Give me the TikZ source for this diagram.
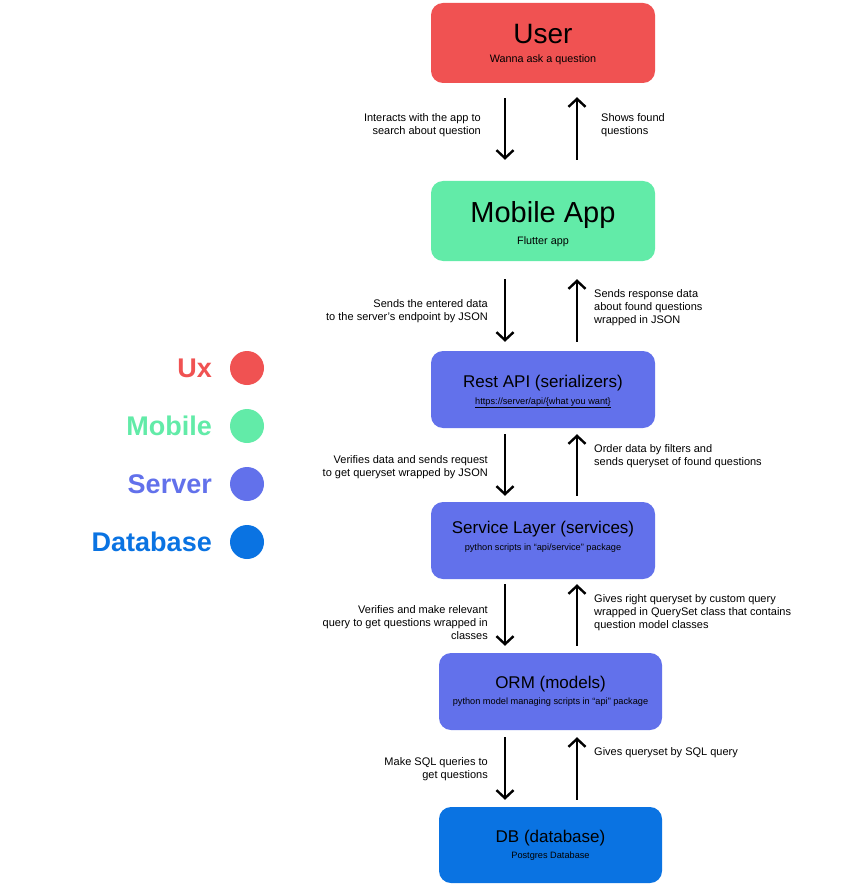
\documentclass[tikz,border=0pt]{standalone}
\usepackage{fontspec}
\setmainfont{Liberation Sans}
\usepackage{tikz}
\usetikzlibrary{
  arrows.meta,
  positioning
}
\definecolor{uxred}{HTML}{F05252}
\definecolor{mobgreen}{HTML}{62EBA8}
\definecolor{srvblue}{HTML}{6271EB}
\definecolor{dbblue}{HTML}{0A73E2}
\tikzset{
  layer/.style={rounded corners=12pt, minimum width=224pt, minimum height=77pt,
    align=center, inner sep=0pt},
  flow/.style={line width=2.4pt, -{Straight Barb[length=8pt,width=17pt,line width=2.4pt]}},
  note/.style={font=\fontsize{11}{13}\selectfont, inner sep=0pt},
  key/.style={font=\fontsize{27}{30}\selectfont\bfseries, anchor=east, inner sep=0pt},
  dot/.style={circle, minimum size=34pt, inner sep=0pt}
}

\begin{document}
\begin{tikzpicture}[x=1pt, y=-1pt]
    \useasboundingbox (0,0) rectangle (859,893);
    \coordinate (lx) at (505,0);
    \coordinate (rx) at (577,0);
    \node[layer, fill=uxred, minimum height=80pt, font=\fontsize{10}{19}\selectfont] (user) at (543,43)
      {{\fontsize{28}{28}\selectfont\rule{0pt}{22pt}User}\\{\fontsize{10.8}{13}\selectfont Wanna ask a question}};
    \node[layer, fill=mobgreen, minimum height=80pt, font=\fontsize{10}{22}\selectfont] (app) at (543,221)
      {{\fontsize{29}{29}\selectfont\rule{0pt}{27pt}Mobile App}\\{\fontsize{10.8}{13}\selectfont Flutter app}};
    \node[layer, fill=srvblue, font=\fontsize{9}{17}\selectfont] (api) at (543,389.5)
      {{\fontsize{17}{17}\selectfont\rule{0pt}{16pt}Rest API (serializers)}\\{\fontsize{9.2}{10}\selectfont\underline{https://server/api/\{what you want\}}}};
    \node[layer, fill=srvblue, font=\fontsize{9}{17}\selectfont] (svc) at (543,540.5)
      {{\fontsize{17}{17}\selectfont Service Layer (services)}\\{\fontsize{9.2}{10}\selectfont\rule[-10pt]{0pt}{10pt}python scripts in “api/service” package}};
    \node[layer, fill=srvblue, minimum width=223pt, font=\fontsize{9}{16}\selectfont] (orm) at (550.5,691.5)
      {{\fontsize{17}{17}\selectfont ORM (models)}\\{\fontsize{9.2}{10}\selectfont python model managing scripts in “api” package}};
    \node[layer, fill=dbblue, minimum width=223pt, minimum height=76pt, font=\fontsize{9}{16}\selectfont] (db) at (550.5,845)
      {{\fontsize{17}{17}\selectfont DB (database)}\\{\fontsize{9.2}{10}\selectfont Postgres Database}};
    \draw[flow, shorten <=15pt, shorten >=21pt] (lx |- user.south) -- (lx |- app.north);
    \draw[flow, shorten <=21pt, shorten >=14pt] (rx |- app.north) -- (rx |- user.south);
    \draw[flow, shorten <=18pt, shorten >=9pt] (lx |- app.south) -- (lx |- api.north);
    \draw[flow, shorten <=9pt, shorten >=18pt] (rx |- api.north) -- (rx |- app.south);
    \draw[flow, shorten <=6pt, shorten >=6pt] (lx |- api.south) -- (lx |- svc.north);
    \draw[flow, shorten <=6pt, shorten >=6pt] (rx |- svc.north) -- (rx |- api.south);
    \draw[flow, shorten <=5pt, shorten >=7pt] (lx |- svc.south) -- (lx |- orm.north);
    \draw[flow, shorten <=7pt, shorten >=5pt] (rx |- orm.north) -- (rx |- svc.south);
    \draw[flow, shorten <=7pt, shorten >=7pt] (lx |- orm.south) -- (lx |- db.north);
    \draw[flow, shorten <=7pt, shorten >=7pt] (rx |- db.north) -- (rx |- orm.south);
    \node[note, anchor=east, align=right] (l1) at (481,125.5) {Interacts with the app to\\search about question};
    \node[note, anchor=west, align=left] (r1) at (601,125.5) {Shows found\\questions};
    \node[note, anchor=east, align=right] (l2) at (488,311.5) {Sends the entered data\\to the server’s endpoint by JSON};
    \node[note, anchor=west, align=left] (r2) at (594,308) {Sends response data\\about found questions\\wrapped in JSON};
    \node[note, anchor=east, align=right] (l3) at (488,467.5) {Verifies data and sends request\\to get queryset wrapped by JSON};
    \node[note, anchor=west, align=left] (r3) at (594,456.5) {Order data by filters and\\sends queryset of found questions};
    \node[note, anchor=east, align=right] (l4) at (488,623) {Verifies and make relevant\\query to get questions wrapped in\\classes};
    \node[note, anchor=west, align=left] (r4) at (594,613) {Gives right queryset by custom query\\wrapped in QuerySet class that contains\\question model classes};
    \node[note, anchor=east, align=right] (l5) at (488,769.5) {Make SQL queries to\\get questions};
    \node[note, anchor=west, align=left] (r5) at (594,753) {Gives queryset by SQL query};
    \node[dot, fill=uxred] (c1) at (247,368) {};
    \node[dot, fill=mobgreen] (c2) at (247,426) {};
    \node[dot, fill=srvblue] (c3) at (247,484) {};
    \node[dot, fill=dbblue] (c4) at (247,542) {};
    \node[key, text=uxred] (k1) at (212,368) {Ux};
    \node[key, text=mobgreen] (k2) at (212,426) {Mobile};
    \node[key, text=srvblue] (k3) at (212,484) {Server};
    \node[key, text=dbblue] (k4) at (212,542) {Database};
\end{tikzpicture}
\end{document}
